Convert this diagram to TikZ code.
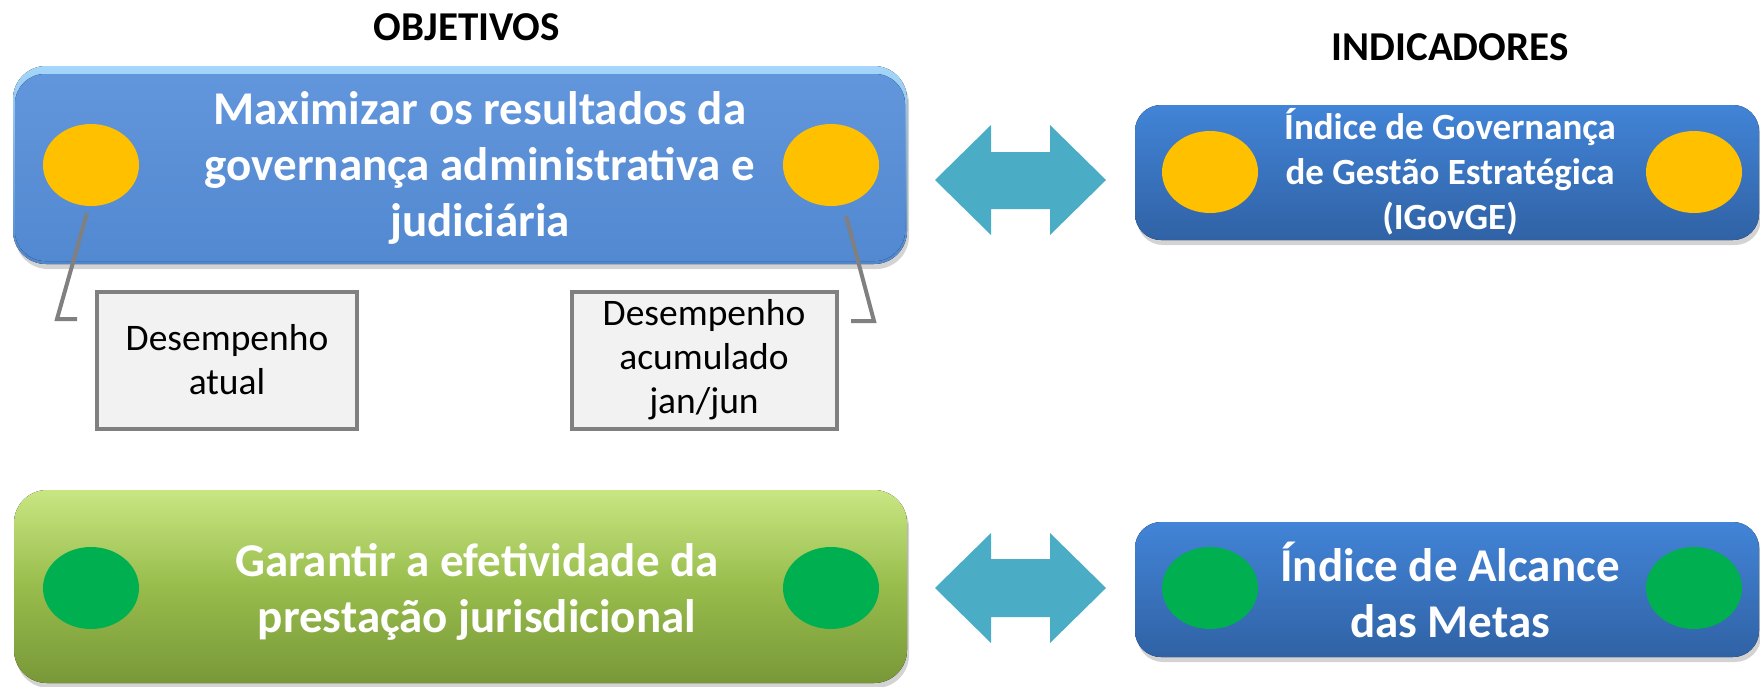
\documentclass[tikz,border=0pt]{standalone}
\usepackage{fontspec}
\setmainfont{Carlito}
\usetikzlibrary{shadows,shapes.geometric}
\definecolor{arrowc}{HTML}{4BACC6}
\definecolor{yel}{HTML}{FFC000}
\definecolor{grn}{HTML}{00B050}
\definecolor{calgray}{HTML}{808080}
\definecolor{calfill}{HTML}{F2F2F2}
\definecolor{b1top}{RGB}{165,215,250}
\definecolor{b1bot}{RGB}{80,135,205}
\definecolor{b1in}{RGB}{98,150,220}
\definecolor{b1inb}{RGB}{82,137,208}
\definecolor{b1mid}{RGB}{90,143,214}
\definecolor{b2top}{RGB}{66,132,215}
\definecolor{b2bot}{RGB}{48,98,165}
\definecolor{gtop}{RGB}{200,230,130}
\definecolor{gmid}{RGB}{152,188,76}
\definecolor{gbot}{RGB}{120,152,56}
\begin{document}
\begin{tikzpicture}[x=1pt,y=-1pt,
  shad/.style={drop shadow={opacity=0.35,shadow xshift=2pt,shadow yshift=-5pt}},
  dot/.style={ellipse, draw=none, fill=#1, inner sep=0pt, minimum width=96pt, minimum height=82pt},
  bigtxt/.style={text=white, align=center, font=\fontsize{47}{56}\selectfont\bfseries},
  midtxt/.style={text=white, align=center, font=\fontsize{37}{45}\selectfont\bfseries},
  calbox/.style={draw=calgray, line width=4pt, fill=calfill},
  caltxt/.style={align=center, font=\fontsize{37.5}{44}\selectfont},
  callline/.style={draw=calgray, line width=4pt},
  head/.style={font=\fontsize{41}{48}\selectfont\bfseries},
  barrow/.style={fill=arrowc}
]
\useasboundingbox (0,0) rectangle (1760,686);
\clip (0,0) rectangle (1760,686);

% headings
\node[head] (hobj) at (467,27) {OBJETIVOS};
\node[head] (hind) at (1450,47) {INDICADORES};

% top-left objective box
\fill[rounded corners=33pt, top color=b1top, bottom color=b1bot, shad]
  (13,66) rectangle (907,264);
\fill[rounded corners=30pt, top color=b1in, bottom color=b1inb, middle color=b1mid]
  (15,74) rectangle (905,261);
\node[dot=yel] (y1l) at (91,165) {};
\node[dot=yel] (y1r) at (831,165) {};
\node[bigtxt] (t1) at (480,168) {Maximizar os resultados da\\governança administrativa e\\judiciária};

% callouts
\node[calbox, minimum width=260pt, minimum height=137pt] (c1) at (227,360) {};
\node[caltxt] at (c1) {Desempenho\\atual};
\node[calbox, minimum width=265pt, minimum height=137pt] (c2) at (704,360) {};
\node[caltxt] at (c2) {Desempenho\\acumulado\\jan/jun};
\coordinate (l1a) at (87,213);
\coordinate (l1b) at (57,319);
\coordinate (l1c) at (77,319);
\coordinate (l2a) at (846,216);
\coordinate (l2b) at (874,321);
\coordinate (l2c) at (851,321);
\draw[callline] (l1a) -- (l1b) -- (l1c);
\draw[callline] (l2a) -- (l2b) -- (l2c);

% top-right indicator box
\fill[rounded corners=26pt, top color=b2top, bottom color=b2bot, shad]
  (1135,105) rectangle (1759,240);
\node[dot=yel] (y2l) at (1210,172) {};
\node[dot=yel] (y2r) at (1694,172) {};
\node[midtxt] (t2) at (1450,172) {Índice de Governança\\de Gestão Estratégica\\(IGovGE)};

% top double arrow
\fill[barrow] (935,180) -- (991,125) -- (991,152) -- (1050,152) -- (1050,125) -- (1106,180)
  -- (1050,235) -- (1050,209) -- (991,209) -- (991,235) -- cycle;

% bottom-left green box
\fill[rounded corners=33pt, top color=gtop, bottom color=gbot, middle color=gmid, shad]
  (14,490) rectangle (907,683);
\node[dot=grn] (g1l) at (91,588) {};
\node[dot=grn] (g1r) at (831,588) {};
\node[bigtxt] (t3) at (477,592) {Garantir a efetividade da\\prestação jurisdicional};

% bottom double arrow
\fill[barrow] (935,588) -- (991,533) -- (991,559) -- (1050,559) -- (1050,533) -- (1106,588)
  -- (1050,643) -- (1050,617) -- (991,617) -- (991,643) -- cycle;

% bottom-right indicator box
\fill[rounded corners=26pt, top color=b2top, bottom color=b2bot, shad]
  (1135,522) rectangle (1759,657);
\node[dot=grn] (g2l) at (1210,588) {};
\node[dot=grn] (g2r) at (1694,588) {};
\node[bigtxt] (t4) at (1450,590) {Índice de Alcance\\das Metas};
\end{tikzpicture}
\end{document}
